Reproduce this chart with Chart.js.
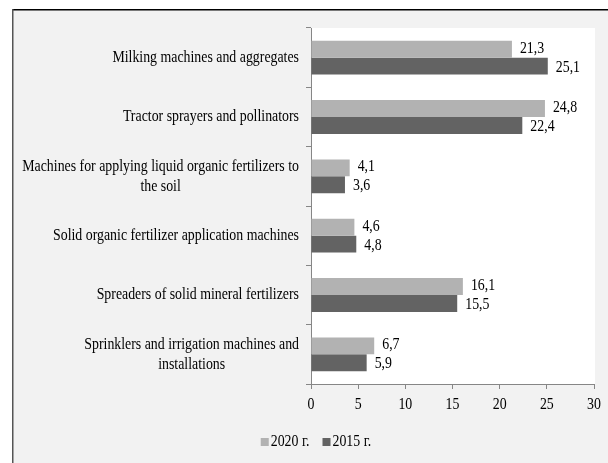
<!DOCTYPE html>
<html>
<head>
<meta charset="utf-8">
<script src="https://cdn.jsdelivr.net/npm/chart.js@4/dist/chart.umd.min.js"></script>
<style>
html,body{margin:0;padding:0;background:#fff;}
#wrap{width:608px;height:463px;position:relative;}
</style>
</head>
<body>
<div id="wrap"><canvas id="c" width="608" height="463"></canvas></div>
<script>
const categories = [
  ["Milking machines and aggregates"],
  ["Tractor sprayers and pollinators"],
  ["Machines for applying liquid organic fertilizers to", "the soil"],
  ["Solid organic fertilizer application machines"],
  ["Spreaders of solid mineral fertilizers"],
  ["Sprinklers and irrigation machines and", "installations"]
];
const series2020 = [21.3, 24.8, 4.1, 4.6, 16.1, 6.7];
const series2015 = [25.1, 22.4, 3.6, 4.8, 15.5, 5.9];
const seriesNames = ["2020 г.", "2015 г."];
const seriesColors = ["#b2b2b2", "#636363"];
const xTicks = [0, 5, 10, 15, 20, 25, 30];

const FONT = "'Liberation Serif', 'Times New Roman', serif";
const SX = 0.815; // horizontal condensing of the reference's text

const canvas = document.getElementById('c');
const ctx2d = canvas.getContext('2d');
const rawFill = ctx2d.fillText;
ctx2d.fillText = function (text, x, y, maxWidth) {
  this.save();
  this.translate(x, y);
  this.scale(SX, 1);
  if (maxWidth !== undefined) rawFill.call(this, text, 0, 0, maxWidth / SX);
  else rawFill.call(this, text, 0, 0);
  this.restore();
};

const bgPlugin = {
  id: 'bg',
  beforeDraw(chart) {
    const ctx = chart.ctx;
    ctx.save();
    ctx.fillStyle = '#ffffff';
    ctx.fillRect(0, 0, chart.width, chart.height);
    ctx.fillStyle = '#f2f2f2';
    ctx.fillRect(12, 9, chart.width - 12, chart.height - 9);
    ctx.fillStyle = '#000000';
    ctx.fillRect(12, 9, chart.width - 12, 1.5);
    ctx.fillStyle = '#555555';
    ctx.fillRect(12, 9, 1.5, chart.height - 9);
    const a = chart.chartArea;
    ctx.fillStyle = '#ffffff';
    ctx.fillRect(a.left, a.top, a.right - a.left + 1, a.bottom - a.top);
    ctx.restore();
  }
};

const labelPlugin = {
  id: 'labels',
  afterDraw(chart) {
    const ctx = chart.ctx;
    ctx.save();
    ctx.font = "17px " + FONT;
    ctx.fillStyle = '#000';
    ctx.textBaseline = 'middle';
    // category labels
    const ys = chart.scales.y;
    const rightEdge = 299;
    categories.forEach((lines, i) => {
      const cy = ys.getPixelForTick(i);
      const widest = Math.max(...lines.map(l => ctx.measureText(l).width)) * SX;
      const cx = rightEdge - widest / 2;
      const lh = 19.5;
      const y0 = cy - (lines.length - 1) * lh / 2;
      ctx.textAlign = 'center';
      lines.forEach((l, k) => ctx.fillText(l, cx, y0 + k * lh));
    });
    // data labels
    ctx.textAlign = 'left';
    chart.data.datasets.forEach((ds, di) => {
      const meta = chart.getDatasetMeta(di);
      meta.data.forEach((bar, i) => {
        const txt = ds.data[i].toFixed(1).replace('.', ',');
        ctx.fillText(txt, bar.x + 8, bar.y + (di === 0 ? -1 : 1));
      });
    });
    // legend
    const box = 8, gap = 2, spacing = 13;
    const widths = seriesNames.map(n => ctx.measureText(n).width * SX);
    const total = widths.reduce((s, w) => s + box + gap + w, 0) + spacing * (seriesNames.length - 1);
    let x = 316 - total / 2;
    const ly = 442;
    seriesNames.forEach((n, k) => {
      ctx.fillStyle = seriesColors[k];
      ctx.fillRect(x, ly - box / 2, box, box);
      ctx.fillStyle = '#000';
      ctx.fillText(n, x + box + gap, ly);
      x += box + gap + widths[k] + spacing;
    });
    ctx.restore();
  }
};

new Chart(ctx2d, {
  type: 'bar',
  data: {
    labels: categories,
    datasets: [
      { label: seriesNames[0], data: series2020, backgroundColor: seriesColors[0], categoryPercentage: 0.57, barPercentage: 1.0 },
      { label: seriesNames[1], data: series2015, backgroundColor: seriesColors[1], categoryPercentage: 0.57, barPercentage: 1.0 }
    ]
  },
  options: {
    indexAxis: 'y',
    responsive: false,
    animation: false,
    devicePixelRatio: 1,
    layout: { padding: { top: 28, right: 14, left: 38, bottom: 39 } },
    scales: {
      x: {
        min: 0, max: 30,
        afterBuildTicks(scale) { scale.ticks = xTicks.map(v => ({ value: v })); },
        afterFit(scale) { scale.height = 40; },
        grid: { display: true, drawOnChartArea: false, drawTicks: true, tickLength: 5, color: '#868686' },
        border: { display: true, color: '#868686', width: 1 },
        ticks: { font: { family: FONT, size: 17 }, color: '#000', padding: 5, maxRotation: 0 }
      },
      y: {
        afterFit(scale) { scale.width = 311 - 38; },
        grid: { display: true, drawOnChartArea: false, drawTicks: true, tickLength: 5, color: '#868686', offset: true },
        border: { display: true, color: '#868686', width: 1 },
        ticks: { display: false }
      }
    },
    plugins: {
      legend: { display: false },
      tooltip: { enabled: false }
    }
  },
  plugins: [bgPlugin, labelPlugin]
});
</script>
</body>
</html>
